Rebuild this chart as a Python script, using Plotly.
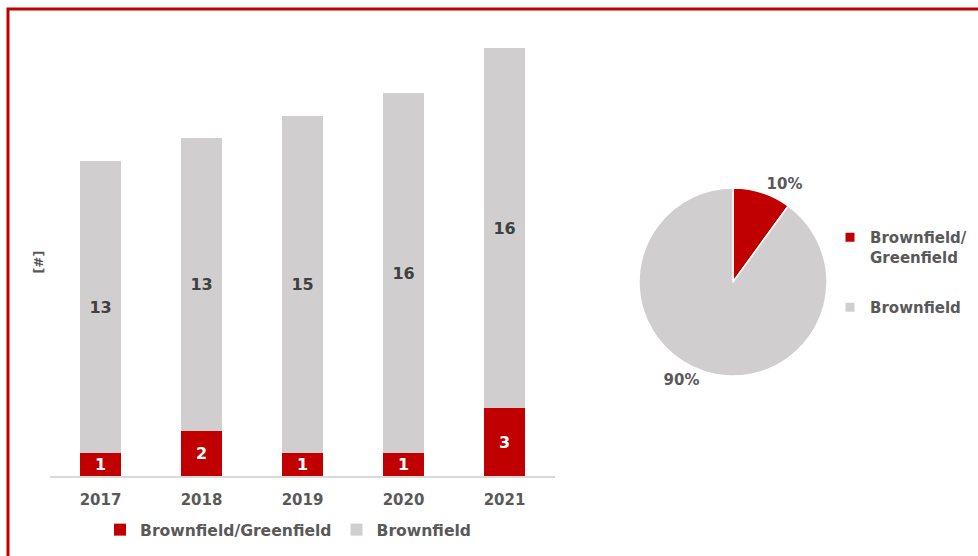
import plotly.graph_objects as go

years = ["2017", "2018", "2019", "2020", "2021"]
brown_green = [1, 2, 1, 1, 3]
brownfield = [13, 13, 15, 16, 16]
pie_labels = ["Brownfield/<br>Greenfield", "Brownfield"]
pie_values = [10, 90]

RED = "#C00000"
GRAY = "#D0CECE"
TXT = "#595959"
FONT = "DejaVu Sans"
W, H = 978, 556

fig = go.Figure()
fig.add_trace(go.Bar(
    x=years, y=brown_green, name="Brownfield/Greenfield",
    marker=dict(color=RED, line=dict(width=0)),
    text=brown_green, textposition="inside", insidetextanchor="middle",
    textangle=0, constraintext="none",
    textfont=dict(family=FONT, size=16, color="white", weight="bold"),
    legend="legend",
))
fig.add_trace(go.Bar(
    x=years, y=brownfield, name="Brownfield",
    marker=dict(color=GRAY, line=dict(width=0)),
    text=brownfield, textposition="inside", insidetextanchor="middle",
    textangle=0, constraintext="none",
    textfont=dict(family=FONT, size=16, color="#404040", weight="bold"),
    legend="legend",
))
fig.add_trace(go.Pie(
    labels=pie_labels, values=pie_values, sort=False, direction="clockwise",
    rotation=0, marker=dict(colors=[RED, GRAY], line=dict(color="white", width=1.5)),
    textinfo="percent", textposition="outside",
    texttemplate="%{percent:.0%}",
    textfont=dict(family=FONT, size=15, color=TXT, weight="bold"),
    domain=dict(x=[639 / W, 827 / W], y=[1 - 376 / H, 1 - 188 / H]),
    showlegend=False, hoverinfo="label+percent",
))
# legend entries for the pie (separate legend, one group per slice for spacing)
for lab, col in zip(pie_labels, [RED, GRAY]):
    fig.add_trace(go.Scatter(
        x=[None], y=[None], mode="markers", name=lab,
        marker=dict(symbol="square", size=9, color=col),
        legend="legend2", legendgroup=lab, hoverinfo="skip",
    ))

fig.update_layout(
    width=W, height=H, barmode="stack", bargap=0.6,
    margin=dict(l=0, r=0, t=0, b=0, autoexpand=False),
    paper_bgcolor="white", plot_bgcolor="white",
    font=dict(family=FONT, color=TXT),
    xaxis=dict(domain=[50 / W, 555 / W], showline=True, linecolor="#D9D9D9",
               linewidth=1.5, ticks="", ticklabelstandoff=9,
               tickfont=dict(family=FONT, size=15, color=TXT, weight="bold"),
               showgrid=False, zeroline=False),
    yaxis=dict(domain=[1 - 476 / H, 1 - 48 / H], range=[0, 19], showgrid=False,
               zeroline=False, showticklabels=False, showline=False,
               title=dict(text="[#]", standoff=2,
                          font=dict(family=FONT, size=13, color=TXT, weight="bold"))),
    legend=dict(orientation="h", x=100 / W, y=1 - 530 / H, xanchor="left", yanchor="middle",
                xref="container", yref="container", traceorder="normal",
                font=dict(family=FONT, size=15.6, color=TXT, weight="bold"),
                bgcolor="rgba(0,0,0,0)", itemwidth=30),
    legend2=dict(orientation="v", x=830 / W, y=1 - 221 / H, xanchor="left", yanchor="top",
                 xref="container", yref="container",
                 traceorder="grouped", tracegroupgap=28,
                 font=dict(family=FONT, size=15, color=TXT, weight="bold"),
                 bgcolor="rgba(0,0,0,0)", itemwidth=30, valign="top"),
    shapes=[dict(type="rect", xref="paper", yref="paper",
                 x0=8 / W, x1=1.05, y0=-0.05, y1=1 - 9 / H,
                 line=dict(color=RED, width=3), layer="above")],
)

fig.write_html(
    "out.html",
    config={"displayModeBar": False},
    post_script=("document.body.style.margin='0';"
                 "document.body.style.overflow='hidden';"
                 "document.documentElement.style.overflow='hidden';"),
)
